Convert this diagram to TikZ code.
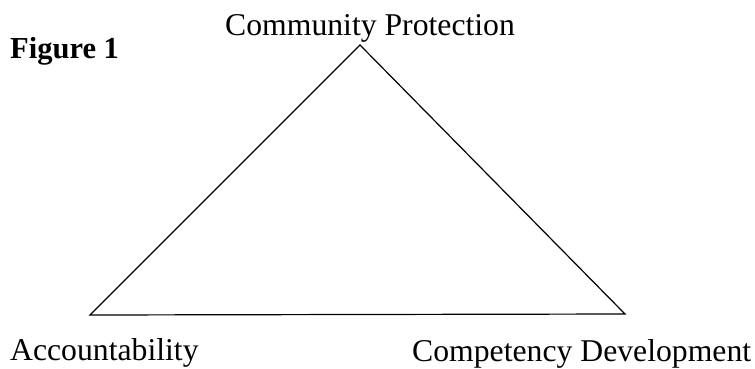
\documentclass[tikz,border=0pt]{standalone}
\usepackage{fontspec}
\setmainfont{Liberation Serif}
\begin{document}
\begin{tikzpicture}[x=1pt,y=-1pt,
  label/.style={inner sep=0pt,anchor=base west,font=\fontsize{31.7}{38}\selectfont},
  title/.style={inner sep=0pt,anchor=base west,font=\fontsize{30.5}{36}\selectfont\bfseries},
  edge/.style={line width=1.2pt,line join=miter}]
  % canvas
  \path[use as bounding box,fill=white] (0,0) rectangle (755,368);
  % caption and corner labels
  \node[title] (fig) at (10,58) {Figure 1};
  \node[label] (top) at (225,35) {Community Protection};
  \node[label] (left) at (10,360) {Accountability};
  \node[label] (right) at (412,361) {Competency Development};
  % triangle corners
  \coordinate (apex) at (360,45);
  \coordinate (bl) at (90,315);
  \coordinate (br) at (625,314);
  \draw[edge] (apex) -- (br) -- (bl) -- cycle;
\end{tikzpicture}
\end{document}
